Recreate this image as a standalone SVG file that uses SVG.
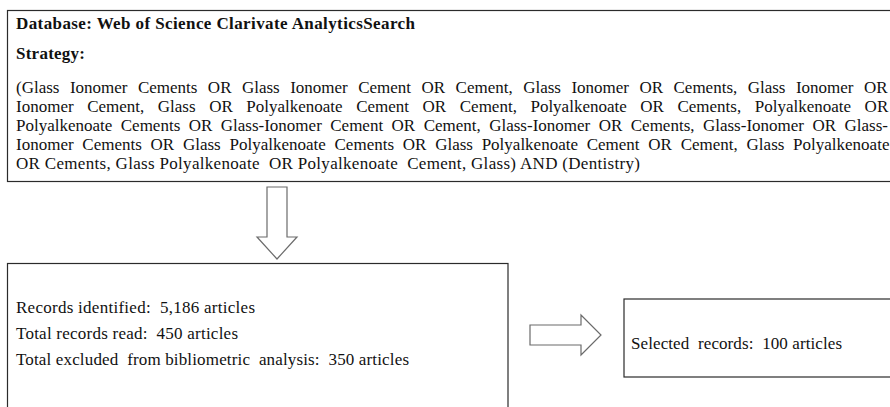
<svg xmlns="http://www.w3.org/2000/svg" width="890" height="407" viewBox="0 0 890 407">
  <style>
    .box { fill: #ffffff; stroke: #2b2b2b; stroke-width: 1.2; }
    .arrow { fill: #ffffff; stroke: #6b6b6b; stroke-width: 1.2; stroke-linejoin: miter; }
    text { font-family: "Liberation Serif", "Times New Roman", serif; font-size: 17px; fill: #111111; white-space: pre; }
    .bold { font-weight: bold; }
  </style>
  <rect width="890" height="407" fill="#ffffff"/>

  <g id="search-box">
    <rect class="box" x="7.5" y="10.5" width="890" height="171"/>
    <text class="bold" x="16" y="29" textLength="399" lengthAdjust="spacing">Database: Web of Science Clarivate AnalyticsSearch</text>
    <text class="bold" x="16" y="59" textLength="69" lengthAdjust="spacing">Strategy:</text>
    <text x="16" y="92.5" word-spacing="6.2">(Glass Ionomer Cements OR Glass Ionomer Cement OR Cement, Glass Ionomer OR Cements, Glass Ionomer OR</text>
    <text x="16" y="111.5" word-spacing="9.3">Ionomer Cement, Glass OR Polyalkenoate Cement OR Cement, Polyalkenoate OR Cements, Polyalkenoate OR</text>
    <text x="16" y="130.5" word-spacing="4.2">Polyalkenoate Cements OR Glass-Ionomer Cement OR Cement, Glass-Ionomer OR Cements, Glass-Ionomer OR Glass-</text>
    <text x="16" y="149.5" word-spacing="4.5">Ionomer Cements OR Glass Polyalkenoate Cements OR Glass Polyalkenoate Cement OR Cement, Glass Polyalkenoate</text>
    <text x="16" y="168.5" textLength="624" lengthAdjust="spacing">OR Cements, Glass Polyalkenoate  OR Polyalkenoate  Cement, Glass) AND (Dentistry)</text>
  </g>

  <g id="records-box">
    <rect class="box" x="7.5" y="263.5" width="500.5" height="160"/>
    <text x="16" y="313" textLength="239" lengthAdjust="spacing">Records identified:  5,186 articles</text>
    <text x="16" y="339" textLength="222" lengthAdjust="spacing">Total records read:  450 articles</text>
    <text x="16" y="365" textLength="393" lengthAdjust="spacing">Total excluded  from bibliometric  analysis:  350 articles</text>
  </g>

  <g id="selected-box">
    <rect class="box" x="624" y="299" width="280" height="78"/>
    <text x="631" y="349" textLength="211" lengthAdjust="spacing">Selected  records:  100 articles</text>
  </g>

  <g id="connectors">
    <polygon class="arrow" points="267,187 287,187 287,237 297,237 277,259 257,237 267,237"/>
    <polygon class="arrow" points="530,325 581,325 581,315 601,335 581,355 581,345 530,345"/>
  </g>
</svg>
